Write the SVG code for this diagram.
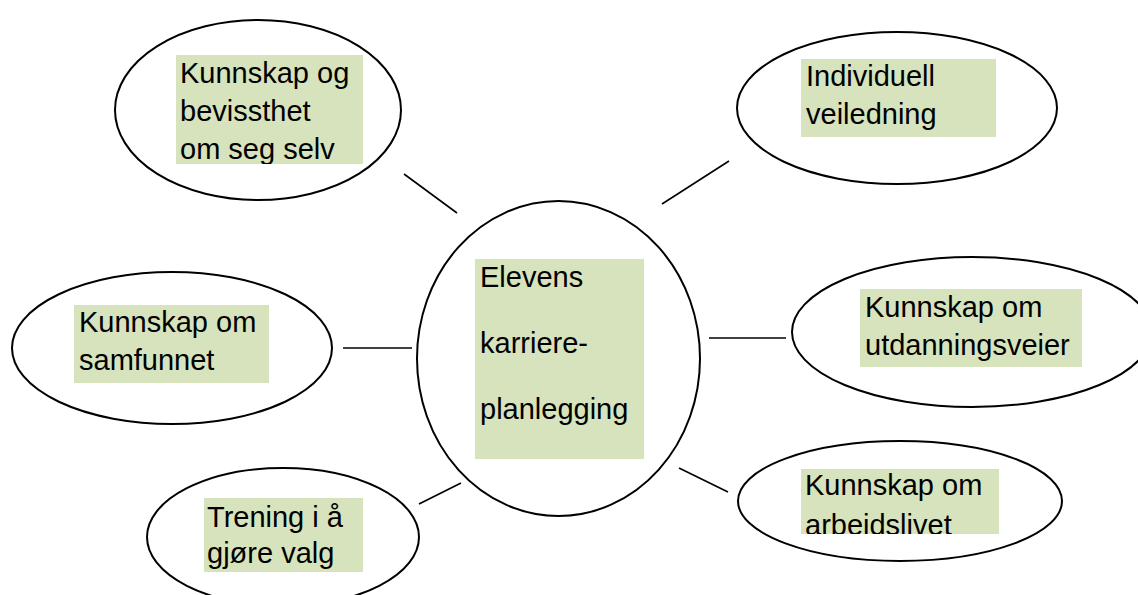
<svg xmlns="http://www.w3.org/2000/svg" width="1138" height="595" viewBox="0 0 1138 595">
<style>
.el{fill:#fff;stroke:#000;stroke-width:2}
.bx{fill:#D6E3BC}
.t{font-family:"Liberation Sans",Arial,sans-serif;font-size:29px;fill:#000}
.cn line{stroke:#000;stroke-width:1.6}
</style>
<defs>
<clipPath id="c1"><rect x="176" y="55" width="187" height="109"/></clipPath>
<clipPath id="c7"><rect x="801" y="469" width="198" height="65"/></clipPath>
</defs>
<rect width="1138" height="595" fill="#fff"/>
<g class="cn" id="connectors">
<line x1="404" y1="174" x2="457" y2="213"/>
<line x1="662" y1="204" x2="729" y2="161"/>
<line x1="343" y1="348" x2="412" y2="348"/>
<line x1="709" y1="338" x2="786" y2="338"/>
<line x1="419" y1="504" x2="461" y2="483"/>
<line x1="679" y1="468" x2="728" y2="492"/>
</g>
<g id="n-selv">
<ellipse class="el" cx="258" cy="110" rx="143" ry="90"/>
<rect class="bx" x="176" y="55" width="187" height="109"/>
<text class="t" clip-path="url(#c1)"><tspan x="180" y="83">Kunnskap og</tspan><tspan x="180" y="121">bevissthet</tspan><tspan x="180" y="159">om seg selv</tspan></text>
</g>
<g id="n-veiledning">
<ellipse class="el" cx="897" cy="108" rx="160" ry="76"/>
<rect class="bx" x="801" y="59" width="195" height="78"/>
<text class="t"><tspan x="806" y="86">Individuell</tspan><tspan x="806" y="124">veiledning</tspan></text>
</g>
<g id="n-center">
<ellipse class="el" cx="558.5" cy="358.5" rx="141.5" ry="157.5"/>
<rect class="bx" x="475" y="259" width="169" height="200"/>
<text class="t"><tspan x="480" y="287">Elevens</tspan><tspan x="480" y="353">karriere-</tspan><tspan x="480" y="419">planlegging</tspan></text>
</g>
<g id="n-samfunnet">
<ellipse class="el" cx="172" cy="348" rx="160" ry="76"/>
<rect class="bx" x="74" y="305" width="195" height="78"/>
<text class="t"><tspan x="79" y="332">Kunnskap om</tspan><tspan x="79" y="370">samfunnet</tspan></text>
</g>
<g id="n-utdanning">
<ellipse class="el" cx="972" cy="332" rx="180" ry="75"/>
<rect class="bx" x="860" y="289" width="222" height="78"/>
<text class="t"><tspan x="865" y="317">Kunnskap om</tspan><tspan x="865" y="355">utdanningsveier</tspan></text>
</g>
<g id="n-valg">
<ellipse class="el" cx="283" cy="537" rx="136" ry="69"/>
<rect class="bx" x="204" y="498" width="159" height="74"/>
<text class="t"><tspan x="207" y="527">Trening i å</tspan><tspan x="207" y="563">gjøre valg</tspan></text>
</g>
<g id="n-arbeid">
<ellipse class="el" cx="900" cy="501" rx="162" ry="60"/>
<rect class="bx" x="801" y="469" width="198" height="65"/>
<text class="t" clip-path="url(#c7)"><tspan x="805" y="495">Kunnskap om</tspan><tspan x="805" y="535">arbeidslivet</tspan></text>
</g>
</svg>
